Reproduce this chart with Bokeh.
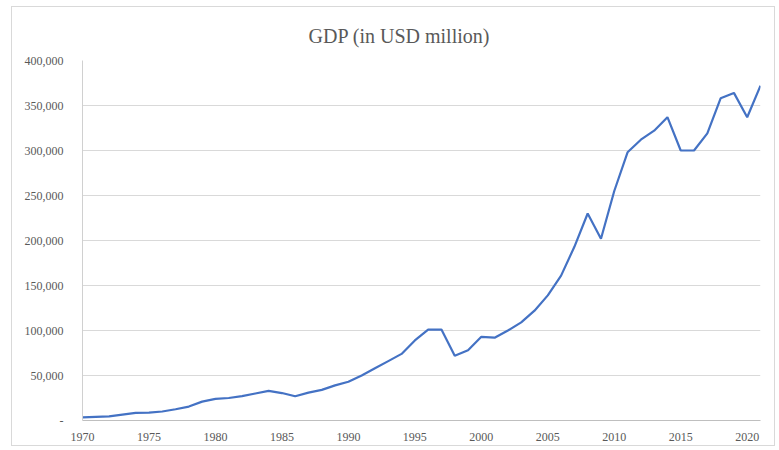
from bokeh.plotting import figure
from bokeh.models import Range1d, FixedTicker
from bokeh.embed import file_html
from bokeh.resources import INLINE

years = list(range(1970, 2022))
gdp = [3500, 4000, 4500, 6500, 8500, 8700, 10000, 12500, 15500, 21000,
       24000, 25000, 27000, 30000, 33000, 30500, 27000, 31000, 34000, 39000,
       43000, 50000, 58000, 66000, 74000, 89000, 101000, 101000, 72000, 78000,
       93000, 92000, 100000, 109000, 122000, 139000, 161000, 193000, 230000, 202000,
       255000, 298000, 312000, 322000, 337000, 300000, 300000, 319000, 358000, 364000,
       337000, 372000]

x_ticks = [1970, 1975, 1980, 1985, 1990, 1995, 2000, 2005, 2010, 2015, 2020]
y_ticks = [0, 50000, 100000, 150000, 200000, 250000, 300000, 350000, 400000]
y_tick_labels = ["-", "50,000", "100,000", "150,000", "200,000", "250,000",
                 "300,000", "350,000", "400,000"]
title_text = "GDP (in USD million)"

FONT = "Liberation Serif"
GRAY = "#595959"

p = figure(width=764, height=440, output_backend="svg", toolbar_location=None,
           x_range=Range1d(1970, 2021), y_range=Range1d(0, 400000))
p.min_border_left = 70
p.min_border_right = 16
p.min_border_top = 53
p.min_border_bottom = 27
p.outline_line_color = None
p.styles = {"border": "1px solid #d9d9d9", "margin": "6px 0px 0px 11px"}

p.title.text = title_text
p.title.align = "left"
p.title.offset = 226
p.title.standoff = 28
p.title.text_font = FONT
p.title.text_font_size = "20px"
p.title.text_font_style = "normal"
p.title.text_color = GRAY

p.line(years, gdp, line_color="#4472C4", line_width=2.2)

p.xaxis.ticker = FixedTicker(ticks=x_ticks)
p.yaxis.ticker = FixedTicker(ticks=y_ticks)
p.yaxis.major_label_overrides = {t: l for t, l in zip(y_ticks, y_tick_labels)}

for ax in (p.xaxis, p.yaxis):
    ax.major_label_text_font = FONT
    ax.major_label_text_font_size = "12px"
    ax.major_label_text_color = GRAY
    ax.major_tick_line_color = None
    ax.minor_tick_line_color = None
p.xaxis.major_label_standoff = 6
p.yaxis.major_label_standoff = 13
p.xaxis.axis_line_color = "#bfbfbf"
p.yaxis.axis_line_color = "#d0d0d0"
p.xgrid.grid_line_color = None
p.ygrid.grid_line_color = "#d9d9d9"

open("out.html", "w").write(file_html(p, INLINE))
